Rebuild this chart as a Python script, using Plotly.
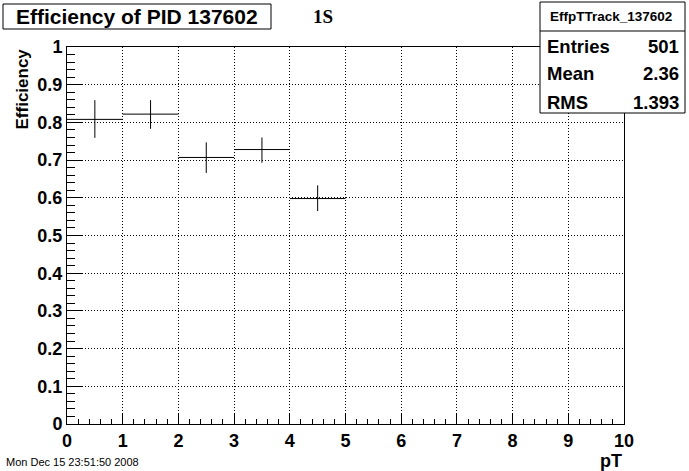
import plotly.graph_objects as go

# ---- data ----
bin_centers = [0.5, 1.5, 2.5, 3.5, 4.5]
efficiency = [0.808, 0.822, 0.707, 0.728, 0.598]
err_up = [0.051, 0.037, 0.040, 0.032, 0.035]
err_down = [0.049, 0.039, 0.041, 0.035, 0.033]
bin_half_width = [0.5, 0.5, 0.5, 0.5, 0.5]

x_tick_vals = [0, 1, 2, 3, 4, 5, 6, 7, 8, 9, 10]
y_tick_vals = [0, 0.1, 0.2, 0.3, 0.4, 0.5, 0.6, 0.7, 0.8, 0.9, 1]
y_tick_text = ["0", "0.1", "0.2", "0.3", "0.4", "0.5", "0.6", "0.7", "0.8", "0.9", "1"]

title_text = "Efficiency of PID 137602"
tag_text = "1S"
stats_name = "EffpTTrack_137602"
stats_labels = ["Entries", "Mean", "RMS"]
stats_values = ["501", "2.36", "1.393"]
date_text = "Mon Dec 15 23:51:50 2008"

W, H = 689, 471
L, R, T, B = 67, 624, 47, 424


def px(x):
    return (x - L) / (R - L)


def py(y):
    return (B - y) / (B - T)


fig = go.Figure()
fig.add_trace(go.Scatter(
    x=bin_centers, y=efficiency, mode="markers",
    marker=dict(size=1, color="rgba(0,0,0,0)", line=dict(width=0)),
    error_y=dict(type="data", symmetric=False, array=err_up, arrayminus=err_down,
                 color="black", thickness=1, width=0),
    error_x=dict(type="data", array=bin_half_width, color="black", thickness=1, width=0),
    showlegend=False, hoverinfo="skip",
))

font_b = "Liberation Sans, Arial, sans-serif"

axis_common = dict(
    showline=True, linecolor="black", linewidth=1, mirror=True,
    showgrid=True, gridcolor="black", griddash="1px,2px", gridwidth=1,
    ticks="inside", tickcolor="black", tickwidth=1,
    zeroline=False, automargin=False,
    tickfont=dict(family=font_b, size=18, color="black", weight="bold"),
)

fig.update_layout(
    width=W, height=H,
    margin=dict(l=L, r=W - R, t=T, b=H - B, autoexpand=False),
    paper_bgcolor="white", plot_bgcolor="white",
    xaxis=dict(range=[0, 10], tickmode="array", tickvals=x_tick_vals, ticklen=10,
               minor=dict(ticks="inside", dtick=0.2, tick0=0, ticklen=5, tickcolor="black", showgrid=False),
               **axis_common),
    yaxis=dict(range=[0, 1], tickmode="array", tickvals=y_tick_vals, ticktext=y_tick_text, ticklen=16,
               minor=dict(ticks="inside", dtick=0.02, tick0=0, ticklen=8, tickcolor="black", showgrid=False),
               **axis_common),
)

shapes = []
annotations = []

# title box
shapes.append(dict(type="rect", xref="paper", yref="paper",
                   x0=px(3), x1=px(271), y0=py(29), y1=py(4),
                   line=dict(color="black", width=1), fillcolor="white", layer="above"))
annotations.append(dict(x=px(137), y=py(16.5), xref="paper", yref="paper",
                        text="<b>" + title_text + "</b>", showarrow=False,
                        font=dict(family=font_b, size=21, color="black"),
                        xanchor="center", yanchor="middle"))
annotations.append(dict(x=px(323), y=py(17), xref="paper", yref="paper",
                        text="<b>" + tag_text + "</b>", showarrow=False,
                        font=dict(family="Liberation Serif, Times New Roman, serif", size=19, color="black"),
                        xanchor="center", yanchor="middle"))

# stats box
shapes.append(dict(type="rect", xref="paper", yref="paper",
                   x0=px(540), x1=px(685), y0=py(113), y1=py(2),
                   line=dict(color="black", width=1), fillcolor="white", layer="above"))
shapes.append(dict(type="line", xref="paper", yref="paper",
                   x0=px(540), x1=px(685), y0=py(31), y1=py(31),
                   line=dict(color="black", width=1), layer="above"))
annotations.append(dict(x=px(611), y=py(16.5), xref="paper", yref="paper",
                        text="<b>" + stats_name + "</b>", showarrow=False,
                        font=dict(family=font_b, size=13.5, color="black"),
                        xanchor="center", yanchor="middle"))
row_y = [46, 74, 102]
for lab, val, yy in zip(stats_labels, stats_values, row_y):
    annotations.append(dict(x=px(545), y=py(yy), xref="paper", yref="paper",
                            text="<b>" + lab + "</b>", showarrow=False,
                            font=dict(family=font_b, size=18.5, color="black"),
                            xanchor="left", yanchor="middle"))
    annotations.append(dict(x=px(681), y=py(yy), xref="paper", yref="paper",
                            text="<b>" + val + "</b>", showarrow=False,
                            font=dict(family=font_b, size=18.5, color="black"),
                            xanchor="right", yanchor="middle"))

# axis titles
annotations.append(dict(x=px(22), y=py(47), xref="paper", yref="paper",
                        text="<b>Efficiency</b>", showarrow=False, textangle=-90,
                        font=dict(family=font_b, size=17, color="black"),
                        xanchor="center", yanchor="top"))
annotations.append(dict(x=px(624), y=py(461), xref="paper", yref="paper",
                        text="<b>pT</b>", showarrow=False,
                        font=dict(family=font_b, size=18, color="black"),
                        xanchor="right", yanchor="middle"))
annotations.append(dict(x=px(4), y=py(462), xref="paper", yref="paper",
                        text=date_text, showarrow=False,
                        font=dict(family=font_b, size=11, color="black"),
                        xanchor="left", yanchor="middle"))

fig.update_layout(shapes=shapes, annotations=annotations)
fig.write_html("out.html", config={"displayModeBar": False},
               post_script="document.body.style.margin='0';document.body.style.overflow='hidden';")
